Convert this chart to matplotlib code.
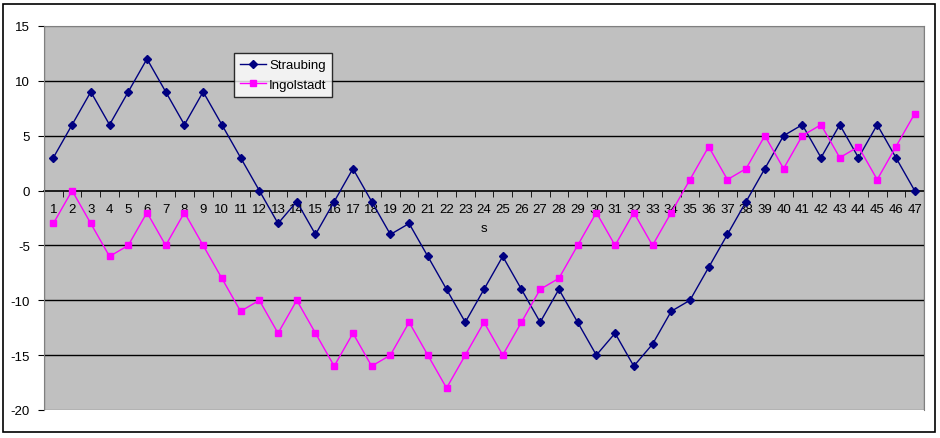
"""
Straubing vs Ingolstadt - Excel style line chart
"""

import matplotlib
matplotlib.use("Agg")
import matplotlib.pyplot as plt
from matplotlib.patches import Rectangle

plt.rcParams["font.family"] = ["Liberation Sans", "DejaVu Sans"]

# Data
categories = list(range(1, 48))
straubing = [3, 6, 9, 6, 9, 12, 9, 6, 9, 6, 3, 0, -3, -1, -4, -1, 2, -1, -4, -3,
             -6, -9, -12, -9, -6, -9, -12, -9, -12, -15, -13, -16, -14, -11, -10,
             -7, -4, -1, 2, 5, 6, 3, 6, 3, 6, 3, 0]
ingolstadt = [-3, 0, -3, -6, -5, -2, -5, -2, -5, -8, -11, -10, -13, -10, -13, -16,
              -13, -16, -15, -12, -15, -18, -15, -12, -15, -12, -9, -8, -5, -2, -5,
              -2, -5, -2, 1, 4, 1, 2, 5, 2, 5, 6, 3, 4, 1, 4, 7]
y_ticks = [-20, -15, -10, -5, 0, 5, 10, 15]

fig = plt.figure(figsize=(9.4, 4.39), dpi=100)
fig.patch.set_facecolor("white")
# outer chart border
fig.add_artist(Rectangle((3 / 940, 1 - 433 / 439), 932 / 940, 428 / 439,
                         transform=fig.transFigure, fill=False,
                         edgecolor="black", linewidth=1.2))

ax = fig.add_axes([44 / 940, 1 - 411 / 439, 880 / 940, 384 / 439])
ax.set_facecolor("#c0c0c0")

# gridlines
for y in y_ticks[1:-1]:
    if y != 0:
        ax.axhline(y, color="black", linewidth=1, zorder=1)

ax.plot(categories, straubing, color="#000080", linewidth=1, marker="D",
        markersize=3.8, label="Straubing", zorder=3)
ax.plot(categories, ingolstadt, color="#ff00ff", linewidth=1, marker="s",
        markersize=4.6, label="Ingolstadt", zorder=3)

ax.set_xlim(0.5, len(categories) + 0.5)
ax.set_ylim(-20, 15)

# category axis crossing at 0
for side in ["top", "right", "left"]:
    ax.spines[side].set_color("#808080")
ax.spines["bottom"].set_position(("data", 0))
ax.spines["bottom"].set_color("black")
ax.spines["bottom"].set_linewidth(1.2)
ax.spines["bottom"].set_zorder(2)
# border of the plot area
ax.add_patch(Rectangle((0, 0), 1, 1, transform=ax.transAxes, fill=False,
                       edgecolor="#808080", linewidth=1, zorder=0.5))

ax.set_xticks(categories)
ax.set_xticklabels([str(c) for c in categories], fontsize=9.5)
ax.set_xticks([c + 0.5 for c in [0] + categories], minor=True)
ax.tick_params(axis="x", which="major", length=0, pad=9)
ax.tick_params(axis="x", which="minor", length=4, direction="out", color="black")

ax.set_yticks(y_ticks)
ax.set_yticklabels([str(v) for v in y_ticks], fontsize=9.5)
ax.tick_params(axis="y", length=4, direction="out", color="black", pad=6)

ax.text(24, -3.4, "s", ha="center", va="center", fontsize=9.5)

leg = ax.legend(loc="upper left", bbox_to_anchor=(190 / 880, 1 - 27 / 384),
                frameon=True, fancybox=False, fontsize=9.5, borderpad=0.45,
                handlelength=2.0, handletextpad=0.2, labelspacing=0.55,
                borderaxespad=0)
leg.get_frame().set_edgecolor("black")
leg.get_frame().set_linewidth(1)

plt.savefig("out.png", dpi=100, facecolor=fig.get_facecolor())
plt.close()
